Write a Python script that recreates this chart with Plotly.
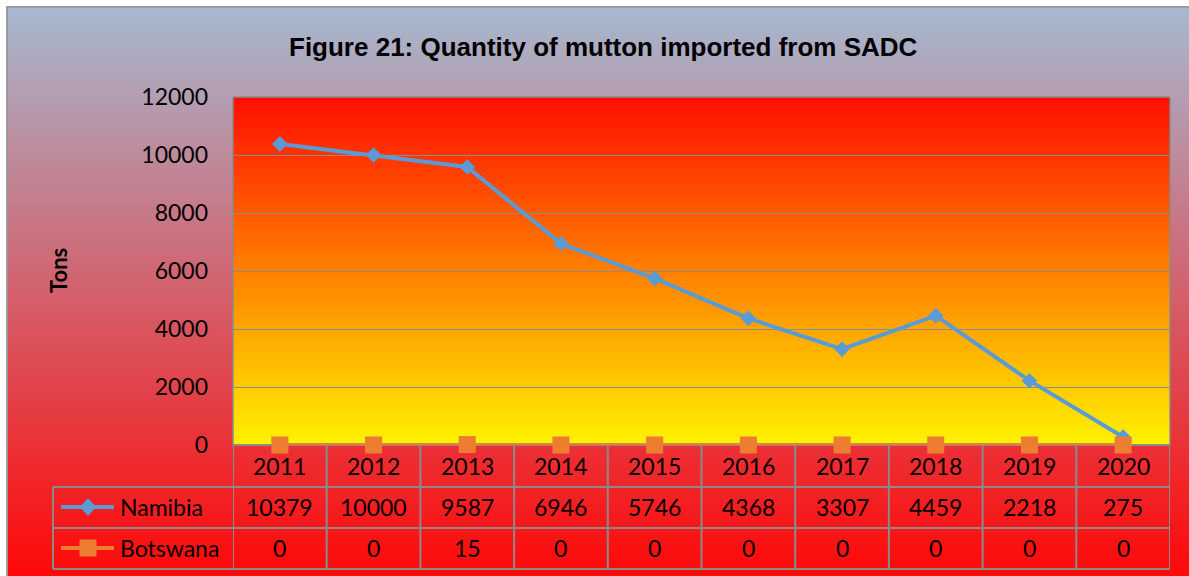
import plotly.graph_objects as go

# ---------------- data ----------------
years = ["2011", "2012", "2013", "2014", "2015", "2016", "2017", "2018", "2019", "2020"]
namibia = [10379, 10000, 9587, 6946, 5746, 4368, 3307, 4459, 2218, 275]
botswana = [0, 0, 15, 0, 0, 0, 0, 0, 0, 0]
series_names = ["Namibia", "Botswana"]
y_ticks = [0, 2000, 4000, 6000, 8000, 10000, 12000]
title_text = "Figure 21: Quantity of mutton imported from SADC"
y_title = "Tons"

# ---------------- layout geometry (screen pixels; body margin removed by post_script) ----------------
SW, SH = 1189, 576
W, H = SW, SH
L, R, T, B = 233, 19, 97, 131
PW, PH = SW - L - R, SH - T - B
EDGE = 8   # chart-area starts here (white strip + grey border outside it)


def px(x):
    return (x - L) / PW


def py(y):
    return (SH - B - y) / PH


BLUE = "#5B9BD5"
ORANGE = "#ED7D31"
GRID = "#8C8C8C"
TBL = "#8A8A8A"
FONT = "Lato, Noto Sans, sans-serif"

shapes = []


def lerp(c1, c2, t):
    return "rgb(%d,%d,%d)" % tuple(round(a + (b - a) * t) for a, b in zip(c1, c2))


# outer chart-area gradient (grey-blue -> red)
n = 120
y0, y1 = EDGE, SH
top_c, bot_c = (166, 185, 208), (255, 8, 8)
for i in range(n):
    ya = y0 + (y1 - y0) * i / n
    yb = y0 + (y1 - y0) * (i + 1) / n + 0.8
    shapes.append(dict(type="rect", xref="paper", yref="paper", layer="below",
                       x0=px(EDGE), x1=px(SW + 4), y0=py(ya),
                       y1=py(yb + (4 if i == n - 1 else 0)),
                       fillcolor=lerp(top_c, bot_c, (i + 0.5) / n), line=dict(width=0)))
# grey outer border (left / top)
shapes.append(dict(type="line", xref="paper", yref="paper", layer="below",
                   x0=px(EDGE - 1), x1=px(EDGE - 1), y0=py(EDGE - 1.5), y1=py(SH + 4),
                   line=dict(color="#9A9A9A", width=2)))
shapes.append(dict(type="line", xref="paper", yref="paper", layer="below",
                   x0=px(EDGE - 2), x1=px(SW + 4), y0=py(EDGE - 1), y1=py(EDGE - 1),
                   line=dict(color="#9A9A9A", width=2)))

# plot-area gradient (red -> yellow)
m = 100
ptop, pbot = (255, 14, 0), (255, 242, 0)
for i in range(m):
    ya = 1 - i / m
    yb = 1 - (i + 1) / m
    shapes.append(dict(type="rect", xref="paper", yref="paper", layer="below",
                       x0=0, x1=1, y0=ya, y1=max(yb - 0.003, 0),
                       fillcolor=lerp(ptop, pbot, (i + 0.5) / m), line=dict(width=0)))

# plot-area border (left, top, right)
for (xa, ya, xb, yb) in [(0, 0, 0, 1), (0, 1, 1, 1), (1, 0, 1, 1)]:
    shapes.append(dict(type="line", xref="paper", yref="paper", layer="below",
                       x0=xa, y0=ya, x1=xb, y1=yb, line=dict(color=TBL, width=1.5)))

# ---------------- data table ----------------
row_y = [445, 487, 528, 569]
n_cat = len(years)
shapes.append(dict(type="line", xref="paper", yref="paper", layer="below",
                   x0=0, x1=1, y0=py(row_y[0]), y1=py(row_y[0]), line=dict(color=TBL, width=2)))
for yy in row_y[1:]:
    shapes.append(dict(type="line", xref="paper", yref="paper", layer="below",
                       x0=px(53), x1=1, y0=py(yy), y1=py(yy), line=dict(color=TBL, width=2)))
shapes.append(dict(type="line", xref="paper", yref="paper", layer="below",
                   x0=px(53), x1=px(53), y0=py(row_y[1]), y1=py(row_y[3]), line=dict(color=TBL, width=2)))
for k in range(n_cat + 1):
    shapes.append(dict(type="line", xref="x", yref="paper", layer="below",
                       x0=k - 0.5, x1=k - 0.5, y0=py(row_y[0]), y1=py(row_y[3]),
                       line=dict(color=TBL, width=2)))

annotations = []
cy = [(row_y[i] + row_y[i + 1]) / 2 - 0.5 for i in range(3)]
tfont = dict(family=FONT, size=23, color="black")
for k, yr in enumerate(years):
    for row, val in enumerate([yr, namibia[k], botswana[k]]):
        annotations.append(dict(x=k, y=py(cy[row]), xref="x", yref="paper", text=str(val), showarrow=False,
                                font=tfont, xanchor="center", yanchor="middle"))

# legend keys inside the table
for j, (name, col) in enumerate(zip(series_names, [BLUE, ORANGE])):
    yc = cy[j + 1]
    shapes.append(dict(type="line", xref="paper", yref="paper", layer="above",
                       x0=px(61), x1=px(114), y0=py(yc), y1=py(yc), line=dict(color=col, width=4)))
    if j == 0:
        path = "M %f,%f L %f,%f L %f,%f L %f,%f Z" % (
            px(80.5), py(yc), px(88), py(yc - 8.5), px(95.5), py(yc), px(88), py(yc + 8.5))
        shapes.append(dict(type="path", xref="paper", yref="paper", layer="above", path=path,
                           fillcolor=col, line=dict(color=col, width=1)))
    else:
        shapes.append(dict(type="rect", xref="paper", yref="paper", layer="above",
                           x0=px(79.5), x1=px(96.5), y0=py(yc - 8.5), y1=py(yc + 8.5),
                           fillcolor=col, line=dict(width=0)))
    annotations.append(dict(x=px(118), y=py(yc), xref="paper", yref="paper", text=name, showarrow=False,
                            font=tfont, xanchor="left", yanchor="middle"))

# axis title
annotations.append(dict(x=px(58), y=py(271), xref="paper", yref="paper", text="<b>%s</b>" % y_title,
                        showarrow=False, textangle=-90,
                        font=dict(family=FONT, size=22, color="black"), xanchor="center", yanchor="middle"))

# title
annotations.append(dict(x=px(603), y=py(47), xref="paper", yref="paper", text="<b>%s</b>" % title_text,
                        showarrow=False, xanchor="center", yanchor="middle",
                        font=dict(family="Liberation Sans Narrow, Arial Narrow, Liberation Sans, sans-serif",
                                  size=26, color="black")))

# ---------------- traces ----------------
fig = go.Figure()
fig.add_trace(go.Scatter(x=years, y=namibia, name=series_names[0], mode="lines+markers",
                         line=dict(color=BLUE, width=4),
                         marker=dict(symbol="diamond", size=12, color=BLUE),
                         cliponaxis=False))
fig.add_trace(go.Scatter(x=years, y=botswana, name=series_names[1], mode="lines+markers",
                         line=dict(color=ORANGE, width=4),
                         marker=dict(symbol="square", size=17, color=ORANGE),
                         cliponaxis=False))

fig.update_layout(
    width=W, height=H,
    margin=dict(l=L, r=R, t=T, b=B, pad=0),
    paper_bgcolor="white",
    plot_bgcolor="rgba(0,0,0,0)",
    showlegend=False,
    hovermode=False,
    xaxis=dict(type="category", range=[-0.5, n_cat - 0.5], showticklabels=False, showgrid=False,
               zeroline=False, showline=False, ticks=""),
    yaxis=dict(range=[0, 12000], tickvals=y_ticks, ticktext=[str(v) for v in y_ticks],
               showgrid=True, gridcolor=GRID, gridwidth=1, zeroline=False, showline=False,
               ticks="", ticklabelstandoff=24,
               tickfont=dict(family=FONT, size=23, color="black")),
    shapes=shapes,
    annotations=annotations,
)

fig.write_html("out.html",
               config={"displayModeBar": False},
               post_script="document.body.style.margin='0px';"
                           "document.documentElement.style.overflow='hidden';"
                           "document.body.style.overflow='hidden';")
